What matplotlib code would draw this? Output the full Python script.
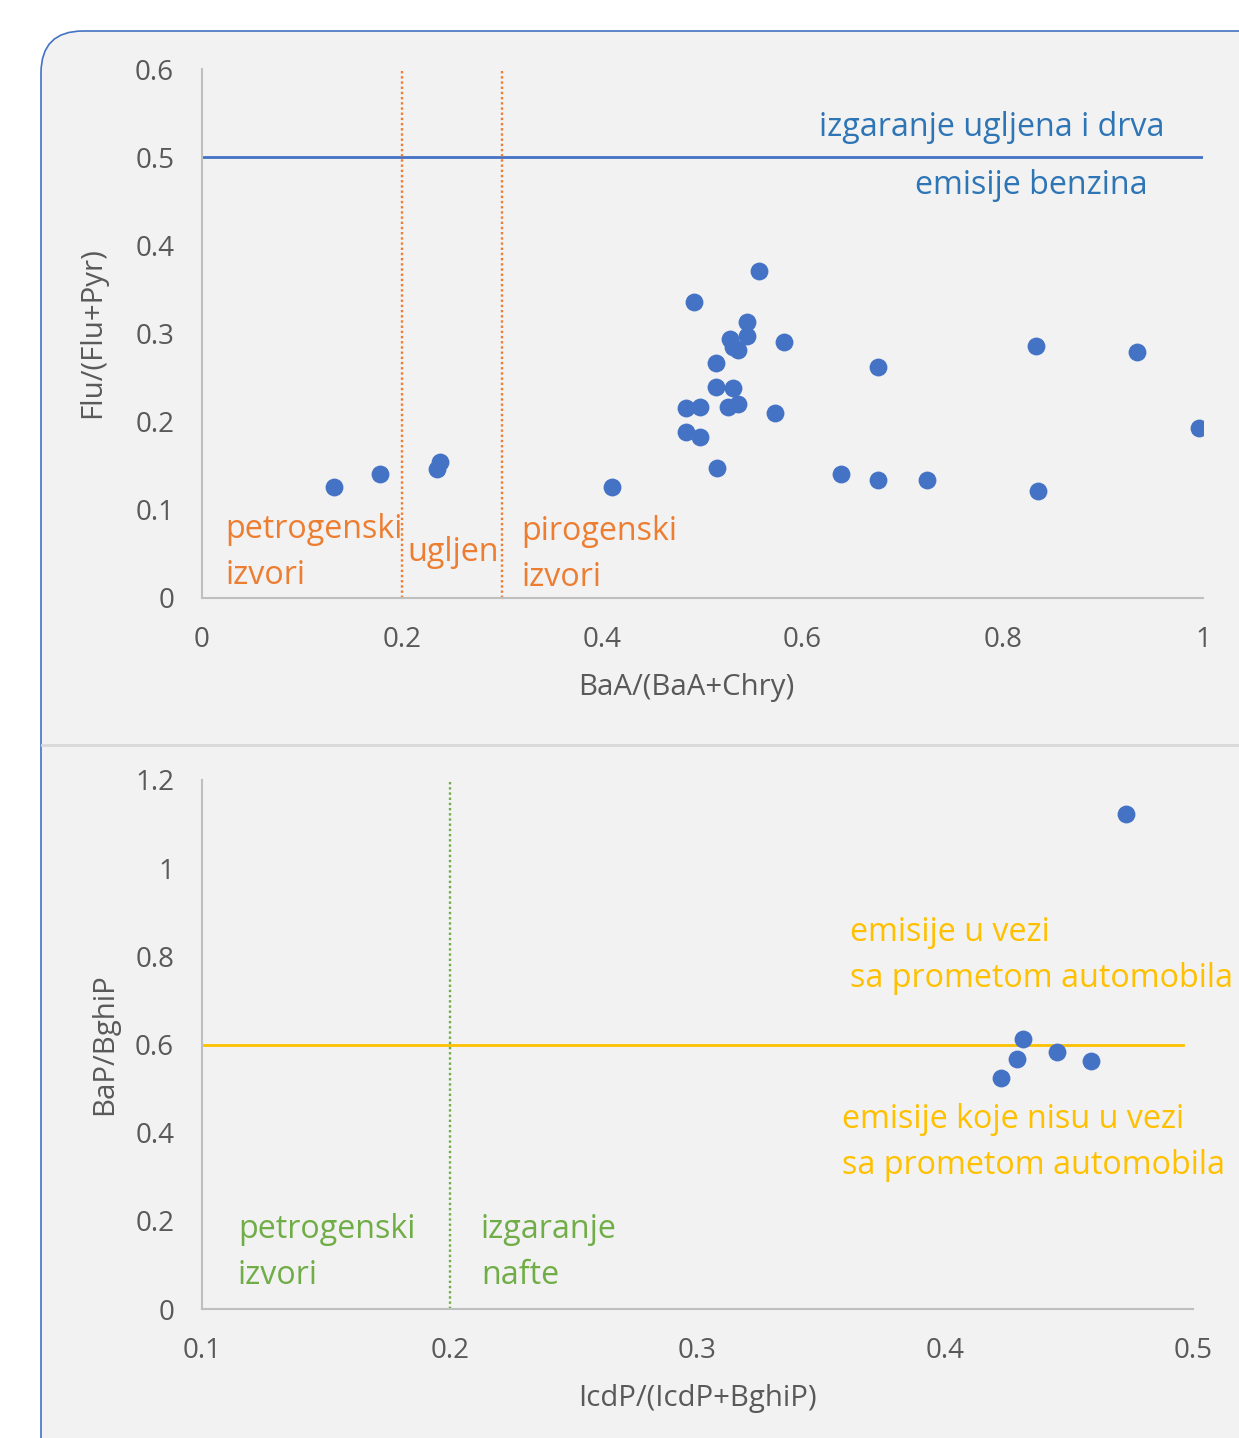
import matplotlib
matplotlib.use("Agg")
import matplotlib.pyplot as plt
from matplotlib.patches import FancyBboxPatch

plt.rcParams['font.family'] = ['Open Sans', 'DejaVu Sans']

# top chart: BaA/(BaA+Chry) vs Flu/(Flu+Pyr)
baa_ratio = [0.556, 0.492, 0.544, 0.544, 0.527, 0.530, 0.535, 0.581, 0.513, 0.513,
             0.530, 0.484, 0.498, 0.525, 0.535, 0.572, 0.484, 0.498, 0.514,
             0.132, 0.178, 0.238, 0.235, 0.410, 0.638, 0.675, 0.675, 0.724,
             0.833, 0.835, 0.934, 0.996]
flu_ratio = [0.371, 0.336, 0.313, 0.297, 0.294, 0.285, 0.281, 0.290, 0.267, 0.239,
             0.238, 0.215, 0.217, 0.217, 0.220, 0.210, 0.188, 0.183, 0.147,
             0.126, 0.141, 0.154, 0.146, 0.126, 0.141, 0.262, 0.134, 0.134,
             0.286, 0.121, 0.279, 0.193]

# bottom chart: IcdP/(IcdP+BghiP) vs BaP/BghiP
icdp_ratio = [0.4314, 0.429, 0.4225, 0.445, 0.4588, 0.473]
bap_ratio = [0.612, 0.567, 0.524, 0.583, 0.563, 1.123]

top_xticks = [0, 0.2, 0.4, 0.6, 0.8, 1]
top_yticks = [0, 0.1, 0.2, 0.3, 0.4, 0.5, 0.6]
bot_xticks = [0.1, 0.2, 0.3, 0.4, 0.5]
bot_yticks = [0, 0.2, 0.4, 0.6, 0.8, 1, 1.2]

BLUE = '#4472c4'
BLUE_TXT = '#2e75b6'
ORANGE = '#ed7d31'
YELLOW = '#ffc000'
GREEN = '#70ad47'
GRAY_TXT = '#595959'
SPINE = '#bfbfbf'

ANN_SIZE = 23.2
LABEL_SIZE = 21.2
TICK_SIZE = 20
LSP = 1.52


def style_axes(ax, xticks, yticks, xlim, ylim):
    ax.set_facecolor('none')
    ax.set_xlim(*xlim)
    ax.set_ylim(*ylim)
    ax.set_xticks(xticks)
    ax.set_yticks(yticks)
    ax.set_xticklabels([f"{v:g}" for v in xticks])
    ax.set_yticklabels([f"{v:g}" for v in yticks])
    for side in ['top', 'right']:
        ax.spines[side].set_visible(False)
    for side in ['left', 'bottom']:
        ax.spines[side].set_color(SPINE)
        ax.spines[side].set_linewidth(1.5)
    ax.tick_params(length=0, labelsize=TICK_SIZE, colors=GRAY_TXT)
    ax.tick_params(axis='x', pad=20)
    ax.tick_params(axis='y', pad=20)


fig = plt.figure(figsize=(12.39, 14.38), dpi=100, facecolor='white')

# background rounded panel
bg = fig.add_axes([0, 0, 1, 1], zorder=-5)
bg.set_xlim(0, 1239)
bg.set_ylim(1438, 0)
bg.axis('off')
bg.add_patch(FancyBboxPatch((41, 31), 1400, 1500,
                            boxstyle="round,pad=0,rounding_size=42",
                            facecolor='#f2f2f2', edgecolor=BLUE, linewidth=1.2))
bg.plot([42, 1239], [745, 745], color='#d9d9d9', linewidth=2)

# top chart
ax1 = fig.add_axes([202 / 1239, 1 - 598 / 1438, 1001 / 1239, 529 / 1438])
style_axes(ax1, top_xticks, top_yticks, (0, 1), (0, 0.6))
ax1.scatter(baa_ratio, flu_ratio, s=165, color=BLUE, zorder=3, linewidths=0)
ax1.axhline(0.5, color=BLUE, linewidth=2)
ax1.axvline(0.2, color=ORANGE, linewidth=1.7, linestyle=(0, (1, 1.2)))
ax1.axvline(0.3, color=ORANGE, linewidth=1.7, linestyle=(0, (1, 1.2)))
ax1.text(0.962, 0.534, "izgaranje ugljena i drva", color=BLUE_TXT, fontsize=ANN_SIZE,
         ha='right', va='center')
ax1.text(0.945, 0.468, "emisije benzina", color=BLUE_TXT, fontsize=ANN_SIZE,
         ha='right', va='center')
ax1.text(0.023, 0.052, "petrogenski\nizvori", color=ORANGE, fontsize=ANN_SIZE,
         ha='left', va='center', linespacing=LSP)
ax1.text(0.205, 0.052, "ugljen", color=ORANGE, fontsize=ANN_SIZE, ha='left', va='center')
ax1.text(0.319, 0.049, "pirogenski\nizvori", color=ORANGE, fontsize=ANN_SIZE,
         ha='left', va='center', linespacing=LSP)
ax1.set_xlabel("BaA/(BaA+Chry)", fontsize=LABEL_SIZE, color=GRAY_TXT)
ax1.set_ylabel("Flu/(Flu+Pyr)", fontsize=LABEL_SIZE, color=GRAY_TXT)
ax1.xaxis.set_label_coords(0.484, -0.142)
ax1.yaxis.set_label_coords(-0.095, 0.501)

# bottom chart
ax2 = fig.add_axes([202 / 1239, 1 - 1309 / 1438, 991 / 1239, 529 / 1438])
style_axes(ax2, bot_xticks, bot_yticks, (0.1, 0.5), (0, 1.2))
ax2.scatter(icdp_ratio, bap_ratio, s=165, color=BLUE, zorder=3, linewidths=0)
ax2.plot([0.1, 0.496], [0.6, 0.6], color=YELLOW, linewidth=2)
ax2.axvline(0.2, color=GREEN, linewidth=1.7, linestyle=(0, (1, 1.2)))
ax2.text(0.1145, 0.129, "petrogenski\nizvori", color=GREEN, fontsize=ANN_SIZE,
         ha='left', va='center', linespacing=LSP)
ax2.text(0.2126, 0.129, "izgaranje\nnafte", color=GREEN, fontsize=ANN_SIZE,
         ha='left', va='center', linespacing=LSP)
ax2.text(0.3616, 0.803, "emisije u vezi\nsa prometom automobila", color=YELLOW,
         fontsize=ANN_SIZE, ha='left', va='center', linespacing=LSP)
ax2.text(0.3583, 0.378, "emisije koje nisu u vezi\nsa prometom automobila", color=YELLOW,
         fontsize=ANN_SIZE, ha='left', va='center', linespacing=LSP)
ax2.set_xlabel("IcdP/(IcdP+BghiP)", fontsize=LABEL_SIZE, color=GRAY_TXT)
ax2.set_ylabel("BaP/BghiP", fontsize=LABEL_SIZE, color=GRAY_TXT)
ax2.xaxis.set_label_coords(0.5, -0.142)
ax2.yaxis.set_label_coords(-0.084, 0.5)

fig.savefig("out.png", dpi=100, facecolor='white')
